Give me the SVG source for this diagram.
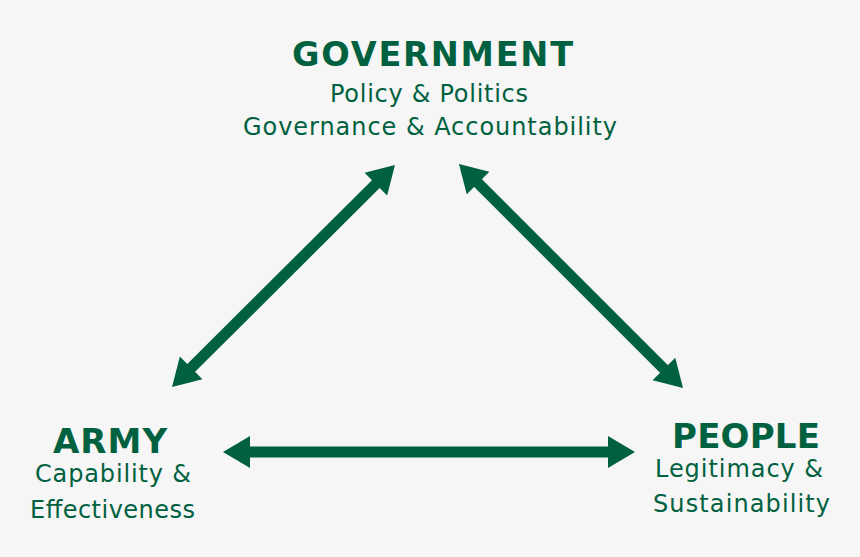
<svg xmlns="http://www.w3.org/2000/svg" width="860" height="557" viewBox="0 0 860 557">
<style>
text{fill:#006140;font-family:"DejaVu Sans","Noto Sans","Liberation Sans",sans-serif;text-anchor:middle}
.t{font-weight:700;font-size:34px}
.g{font-size:33.5px}
.s{font-size:24px}
.c{stroke:#006140;stroke-width:11;fill:none;marker-start:url(#ah);marker-end:url(#ah)}
</style>
<defs>
<marker id="ah" markerUnits="userSpaceOnUse" markerWidth="30" markerHeight="34" viewBox="0 -17 28 34" refX="7" refY="0" orient="auto-start-reverse">
<path d="M0,-16 L27,0 L0,16 Z" fill="#006140"/>
</marker>
</defs>
<rect width="860" height="557" fill="#f6f6f6"/>
<g id="connectors">
<line class="c" x1="186.2" y1="372.9" x2="380.8" y2="179.1"/>
<line class="c" x1="473.1" y1="178.1" x2="668.9" y2="373.9"/>
<line class="c" x1="243" y1="452" x2="615" y2="452"/>
</g>
<g id="government">
<text class="t g" x="432.5" y="66" textLength="281">GOVERNMENT</text>
<text class="s" x="429" y="102" textLength="198">Policy &amp; Politics</text>
<text class="s" x="430" y="135" textLength="374">Governance &amp; Accountability</text>
</g>
<g id="army">
<text class="t" x="110" y="453" textLength="114">ARMY</text>
<text class="s" x="113" y="482" textLength="156">Capability &amp;</text>
<text class="s" x="112.5" y="518" textLength="165">Effectiveness</text>
</g>
<g id="people">
<text class="t" x="746" y="448" textLength="148">PEOPLE</text>
<text class="s" x="739" y="477" textLength="168">Legitimacy &amp;</text>
<text class="s" x="741.5" y="512" textLength="177">Sustainability</text>
</g>
</svg>
